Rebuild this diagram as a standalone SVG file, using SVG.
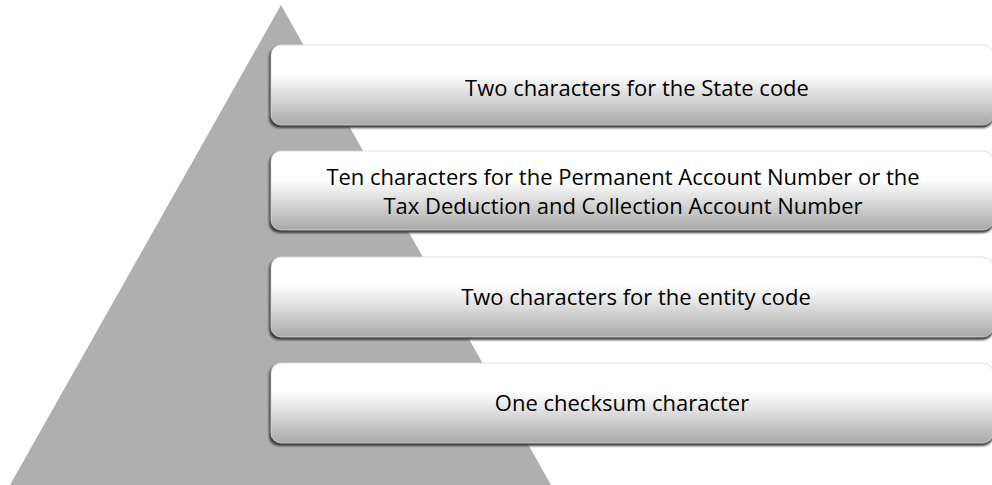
<svg xmlns="http://www.w3.org/2000/svg" width="992" height="485" viewBox="0 0 992 485">
<defs>
<linearGradient id="g" x1="0" y1="0" x2="0" y2="1">
<stop offset="0" stop-color="#ffffff"/>
<stop offset="0.35" stop-color="#ffffff"/>
<stop offset="0.55" stop-color="#e6e6e6"/>
<stop offset="1" stop-color="#a9a9a9"/>
</linearGradient>
<filter id="sh" x="-5%" y="-20%" width="110%" height="140%">
<feGaussianBlur stdDeviation="0.8"/>
</filter>
</defs>
<style>
.sh{fill:#3c3c3c;filter:url(#sh)}
.bar{fill:url(#g);stroke:#d8d8d8;stroke-width:0.8}
.t{font-family:"Open Sans","Noto Sans",sans-serif;font-size:22px;fill:#000;text-anchor:middle}
</style>
<polygon id="pyramid" points="281,5 10,485 551,485" fill="#afafaf"/>
<g id="bar1">
<rect class="sh" x="269" y="47" width="724" height="81" rx="10"/>
<rect class="bar" x="271" y="45" width="722" height="80" rx="10"/>
<text class="t" x="637" y="96">Two characters for the State code</text>
</g>
<g id="bar2">
<rect class="sh" x="269" y="153" width="724" height="80" rx="10"/>
<rect class="bar" x="271" y="151" width="722" height="79" rx="10"/>
<text class="t" x="623" y="185">Ten characters for the Permanent Account Number or the</text>
<text class="t" x="623" y="214">Tax Deduction and Collection Account Number</text>
</g>
<g id="bar3">
<rect class="sh" x="269" y="259" width="724" height="81" rx="10"/>
<rect class="bar" x="271" y="257" width="722" height="80" rx="10"/>
<text class="t" x="636" y="305">Two characters for the entity code</text>
</g>
<g id="bar4">
<rect class="sh" x="269" y="365" width="724" height="81" rx="10"/>
<rect class="bar" x="271" y="363" width="722" height="80" rx="10"/>
<text class="t" x="622" y="411">One checksum character</text>
</g>
<g id="connectors"/>
</svg>
